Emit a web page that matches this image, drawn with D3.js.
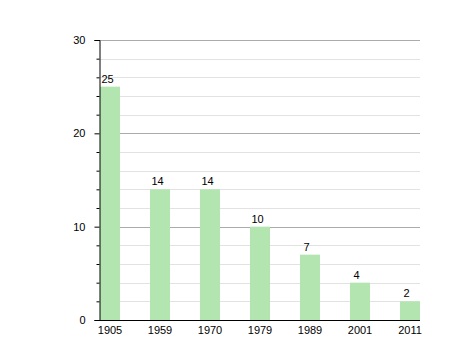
<!DOCTYPE html>
<html>
<head>
<meta charset="utf-8">
<script src="https://cdn.jsdelivr.net/npm/d3@7"></script>
<style>
  body { margin: 0; background: #fff; }
  svg { display: block; font-family: "Liberation Sans", Arial, sans-serif; }
</style>
</head>
<body>
<div id="chart"></div>
<script>
const years = ['1905', '1959', '1970', '1979', '1989', '2001', '2011'];
const values = [25, 14, 14, 10, 7, 4, 2];
const majorTicks = [0, 10, 20, 30];
const minorTicks = [2, 4, 6, 8, 12, 14, 16, 18, 22, 24, 26, 28];

const width = 458;
const height = 360;
const plot = { left: 100, right: 420, top: 40, bottom: 320 };

const svg = d3.select('#chart')
  .append('svg')
  .attr('width', width)
  .attr('height', height);

const x = d3.scaleBand()
  .domain(years)
  .range([plot.left, plot.right])
  .paddingInner(0.6)
  .paddingOuter(0);

const y = d3.scaleLinear().domain([0, 30]).range([plot.bottom, plot.top]);

// minor gridlines
svg.append('g')
  .selectAll('line')
  .data(minorTicks)
  .join('line')
  .attr('x1', plot.left)
  .attr('x2', plot.right)
  .attr('y1', d => Math.round(y(d)) + 0.5)
  .attr('y2', d => Math.round(y(d)) + 0.5)
  .attr('stroke', '#e2e2e2');

// major gridlines
svg.append('g')
  .selectAll('line')
  .data(majorTicks.filter(d => d > 0))
  .join('line')
  .attr('x1', plot.left)
  .attr('x2', plot.right)
  .attr('y1', d => Math.round(y(d)) + 0.5)
  .attr('y2', d => Math.round(y(d)) + 0.5)
  .attr('stroke', '#ababab');

// bars
svg.append('g')
  .selectAll('rect')
  .data(values)
  .join('rect')
  .attr('x', (d, i) => x(years[i]))
  .attr('y', d => y(d))
  .attr('width', x.bandwidth())
  .attr('height', d => y(0) - y(d))
  .attr('fill', '#b3e5b0');

// value labels
svg.append('g')
  .selectAll('text')
  .data(values)
  .join('text')
  .attr('x', (d, i) => x(years[i]) + (d >= 10 ? 1.5 : 3.5))
  .attr('y', d => y(d) - 4)
  .attr('font-size', 11)
  .attr('fill', '#000')
  .text(d => d);

// y axis with major + minor ticks
const yAxis = svg.append('g')
  .attr('transform', `translate(${plot.left - 0.5},0)`)
  .call(d3.axisLeft(y).tickValues(majorTicks).tickSize(5).tickPadding(9))
  .call(g => g.selectAll('text').attr('font-size', 11).attr('fill', '#000'));
yAxis.select('.domain').attr('stroke', '#000');

svg.append('g')
  .attr('transform', `translate(${plot.left - 0.5},0)`)
  .call(d3.axisLeft(y).tickValues(minorTicks).tickSize(3).tickFormat(''))
  .call(g => g.select('.domain').remove());

// x axis
svg.append('g')
  .attr('transform', `translate(0,${plot.bottom + 0.5})`)
  .call(d3.axisBottom(x).tickSize(0).tickPadding(6))
  .call(g => g.select('.domain').attr('stroke', '#000').attr('d', `M${plot.left - 1},0H${plot.right}`))
  .call(g => g.selectAll('text').attr('font-size', 11).attr('fill', '#000'));
</script>
</body>
</html>
